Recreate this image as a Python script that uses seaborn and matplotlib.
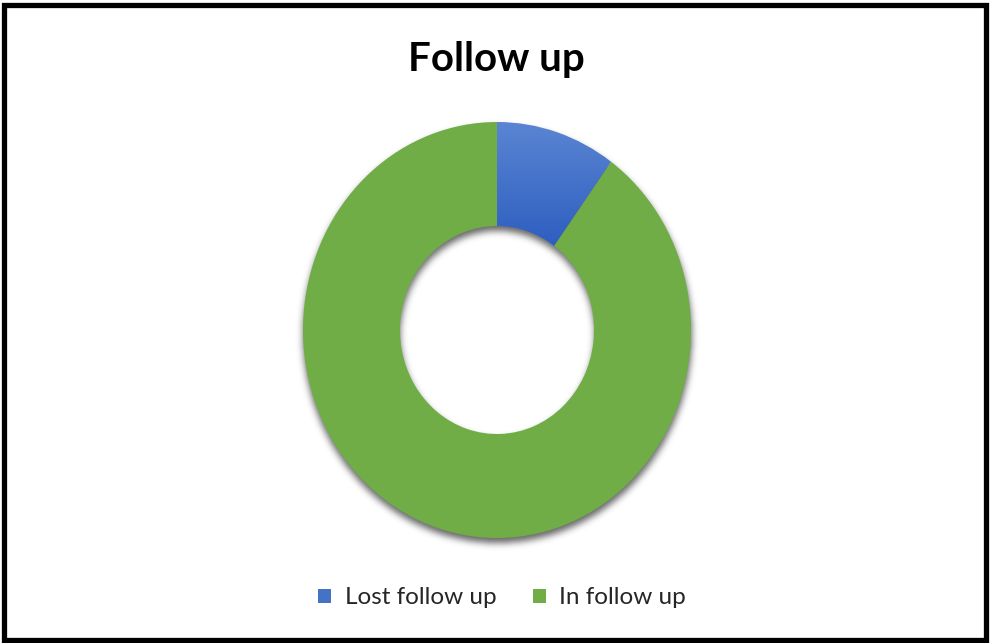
import numpy as np
import matplotlib
matplotlib.use("Agg")
import matplotlib.pyplot as plt
import seaborn as sns
from matplotlib.patches import Patch, Rectangle

# Follow-up status shares (percent)
categories = ["Lost follow up", "In follow up"]
shares = [10, 90]
colors = ["#4472C4", "#70AD47"]
title = "Follow up"

sns.set_theme(style="white")
plt.rcParams["font.family"] = ["Lato", "DejaVu Sans"]

W, H = 990, 643
fig = plt.figure(figsize=(W / 100, H / 100), dpi=100)
fig.patch.set_facecolor("white")

# Ring geometry in pixels
cx, cy = 497, 313          # centre (from bottom)
rx, ry = 194, 208          # outer radii
half_w, half_h = 250, 265  # axes half-size in pixels

ax = fig.add_axes([(cx - half_w) / W, (cy - half_h) / H, 2 * half_w / W, 2 * half_h / H])
wedges, _ = ax.pie(shares, colors=colors, startangle=90, counterclock=False,
                   radius=1.0, wedgeprops=dict(width=0.5, edgecolor="none", zorder=2))
ax.set_aspect("auto")
xl = half_w / rx
yl = half_h / ry
ax.set_xlim(-xl, xl)
ax.set_ylim(-yl, yl)
ax.axis("off")

# Soft drop shadow under the ring
px = np.arange(-half_w, half_w) + 0.5
py = np.arange(-half_h, half_h) + 0.5
PX, PY = np.meshgrid(px, py)
offset = 5
r = np.sqrt((PX / rx) ** 2 + ((PY + offset) / ry) ** 2)
mask = ((r <= 1.0) & (r >= 0.5)).astype(float)
sigma = 3.5
k = np.arange(-12, 13)
kern = np.exp(-k ** 2 / (2 * sigma ** 2))
kern /= kern.sum()
blur = np.apply_along_axis(lambda v: np.convolve(v, kern, mode="same"), 1, mask)
blur = np.apply_along_axis(lambda v: np.convolve(v, kern, mode="same"), 0, blur)
rgba = np.zeros(blur.shape + (4,))
rgba[..., 3] = blur * 0.6
ax.imshow(rgba, extent=(-xl, xl, -yl, yl), origin="lower", zorder=1,
          interpolation="bilinear", aspect="auto")

# Vertical gradient on the blue slice
blue = wedges[0]
blue.set_facecolor("none")
grad = np.linspace(0, 1, 256)[:, None]
top = np.array([0x5B, 0x85, 0xD3]) / 255
bot = np.array([0x2D, 0x5E, 0xC0]) / 255
img = (bot[None, None, :] * (1 - grad[..., None]) + top[None, None, :] * grad[..., None])
img = np.repeat(img, 2, axis=1)
gi = ax.imshow(img, extent=(0, 0.6, 0.4, 1.0), origin="lower", zorder=3,
               aspect="auto", interpolation="bilinear")
gi.set_clip_path(blue)
ax.set_xlim(-xl, xl)
ax.set_ylim(-yl, yl)

# Title
fig.text(0.5015, 1 - 60 / H, title, ha="center", va="center",
         fontsize=29, fontweight="bold", color="black")

# Legend
handles = [Patch(facecolor=c, edgecolor="none", label=l) for c, l in zip(colors, categories)]
fig.legend(handles=handles, loc="center", bbox_to_anchor=(502 / W, 1 - 598 / H), ncol=2,
           frameon=False, fontsize=17.5, handlelength=0.55, handleheight=0.55,
           handletextpad=0.55, columnspacing=1.5, labelcolor="#262626")

# Outer frame
fig.patches.append(Rectangle((3.5 / W, 3.5 / H), (W - 7.5) / W, (H - 8) / H,
                             transform=fig.transFigure, fill=False,
                             edgecolor="black", linewidth=3.8))

fig.savefig("out.png", dpi=100, facecolor="white")
